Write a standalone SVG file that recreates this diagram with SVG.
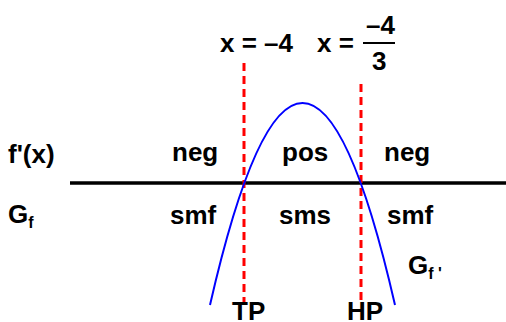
<svg xmlns="http://www.w3.org/2000/svg" width="506" height="322" viewBox="0 0 506 322">
<style>
text{font-family:"Liberation Sans",Arial,sans-serif;font-weight:bold;font-size:26px;fill:#000}
.sub{font-size:16px}
.dash{stroke:#ff0000;stroke-width:3;stroke-dasharray:8 5;fill:none}
</style>
<rect width="506" height="322" fill="#fff"/>
<g id="connectors">
<line x1="70" y1="183" x2="506" y2="183" stroke="#000" stroke-width="3.5"/>
<line class="dash" x1="244" y1="63" x2="244" y2="303"/>
<line class="dash" x1="361" y1="84" x2="361" y2="303"/>
<path d="M210,305 Q302.5,-99 395,305" fill="none" stroke="#0000ff" stroke-width="2"/>
<line x1="363" y1="43" x2="395" y2="43" stroke="#000" stroke-width="2"/>
</g>
<g id="title1"><text x="220" y="52">x = –4</text></g>
<g id="title2"><text x="317" y="52">x =</text><text x="366" y="34">–4</text><text x="372" y="70">3</text></g>
<g id="fx"><text x="8" y="163">f'(x)</text></g>
<g id="gf"><text x="8" y="223">G<tspan class="sub" dy="5">f</tspan></text></g>
<g id="neg1"><text x="172" y="161">neg</text></g>
<g id="pos"><text x="282" y="161">pos</text></g>
<g id="neg2"><text x="384" y="161">neg</text></g>
<g id="smf1"><text x="170" y="224">smf</text></g>
<g id="sms"><text x="279" y="224">sms</text></g>
<g id="smf2"><text x="387" y="224">smf</text></g>
<g id="gfp"><text x="408" y="274">G<tspan class="sub" dy="5">f '</tspan></text></g>
<g id="tp"><text x="232" y="320">TP</text></g>
<g id="hp"><text x="347" y="320">HP</text></g>
</svg>
